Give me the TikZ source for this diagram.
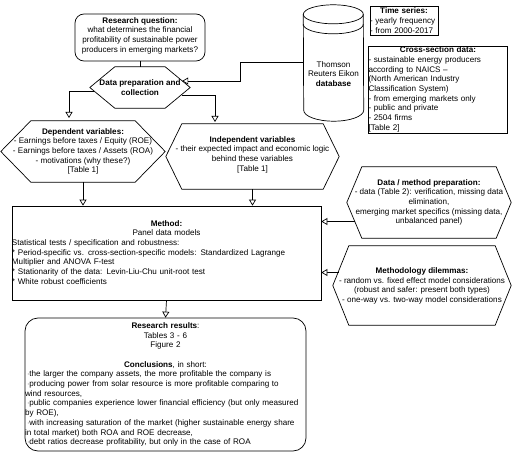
\documentclass[tikz,border=0pt]{standalone}
\usepackage{fontspec}
\setmainfont{Liberation Sans}
\usepackage{tikz}
\usetikzlibrary{arrows.meta,calc}
\tikzset{
  fbase/.style  ={inner sep=0pt, font=\fontsize{8.1}{9.7}\selectfont},
  frnd/.style   ={fbase, draw, line width=0.7pt, rounded corners=9pt, align=center},
  frect/.style  ={fbase, draw, line width=0.7pt},
  fhex/.style   ={fbase, align=center},
  fline/.style  ={line width=0.7pt},
  far/.style    ={-{Triangle[open, length=6pt, width=7pt, fill=white]}, line width=0.7pt},
}
% hexagon outline round a node: name, inset of the corners
\newcommand{\hexdraw}[2]{\draw[fline] (#1.west) -- ([xshift=#2pt]#1.north west) -- ([xshift=-#2pt]#1.north east)
  -- (#1.east) -- ([xshift=-#2pt]#1.south east) -- ([xshift=#2pt]#1.south west) -- cycle;}
\begin{document}
\begin{tikzpicture}[x=1pt,y=-1pt]
\useasboundingbox (0,0) rectangle (512,452);

\node[frnd, minimum width=130pt, minimum height=47pt] (rq) at (140,37.5)
  {\mbox{}\\[-7.7pt]\textbf{Research question:}\\what determines the financial\\profitability of sustainable power\\producers in emerging markets?};

\node[fhex, minimum width=100pt, minimum height=41pt] (prep) at (140,87.5)
  {\textbf{Data preparation and}\\\textbf{collection}};
\hexdraw{prep}{25}

\node[fhex, minimum width=164pt, minimum height=61pt] (dep) at (83,151.5)
  {\textbf{Dependent variables:}\\- Earnings before taxes / Equity (ROE)\\- Earnings before taxes / Assets (ROA)\\- motivations (why these?)\\{[Table 1]}};
\hexdraw{dep}{30}

\node[fhex, minimum width=173pt, minimum height=65pt] (indep) at (252.5,156.5)
  {\mbox{}\\[-7.7pt]\textbf{Independent variables}\\- their expected impact and economic logic\\behind these variables\\{[Table 1]}};
\hexdraw{indep}{16}

% database
\node[fbase, align=center, minimum width=60pt, minimum height=95.5pt] (db) at (333.5,62.25)
  {\mbox{}\\[19.8pt]Thomson\\Reuters Eikon\\\textbf{database}};
\draw[fline] (db.north west) arc[start angle=180, end angle=0, x radius=30pt, y radius=9.5pt]
  -- (db.south east) arc[start angle=0, end angle=-180, x radius=30pt, y radius=11pt] -- cycle;
\draw[fline] (db.north west) arc[start angle=180, end angle=360, x radius=30pt, y radius=9.5pt];
\draw[fline] ([yshift=-10pt]db.north west) arc[start angle=180, end angle=360, x radius=30pt, y radius=9.5pt];

\node[frect, text width=68pt, minimum height=29pt] (time) at (404,20.5)
  {{\centering\textbf{Time series:}\par}\raggedright - yearly frequency\\- from 2000-2017};
\node[frect, text width=139pt, minimum height=87pt] (cross) at (438,89.5)
  {{\centering\textbf{Cross-section data:}\par}\raggedright
   - sustainable energy producers\\according to NAICS --\\(North American Industry\\Classification System)\\- from emerging markets only\\- public and private\\- 2504 firms\\{[Table 2]}};

\node[fhex, minimum width=164pt, minimum height=71pt] (data) at (429,202.5)
  {\textbf{Data / method preparation:}\\- data (Table 2): verification, missing data\\elimination,\\emerging market specifics (missing data,\\unbalanced panel)};
\hexdraw{data}{15}

\node[fhex, minimum width=178pt, minimum height=79pt] (dil) at (422,285.5)
  {\mbox{}\\[-3pt]\textbf{Methodology dilemmas:}\\- random vs. fixed effect model considerations\\(robust and safer: present both types)\\- one-way vs. two-way model considerations};
\hexdraw{dil}{16}

\node[frect, text width=309pt, minimum height=94pt] (method) at (166.5,253)
  {{\centering\mbox{}\\[-5.3pt]\textbf{Method:}\\Panel data models\par}\raggedright
   Statistical tests / specification and robustness:\\
   {*} Period-specific vs. cross-section-specific models: Standardized Lagrange\\Multiplier and ANOVA F-test\\
   {*} Stationarity of the data: Levin-Liu-Chu unit-root test\\
   {*} White robust coefficients};

\node[frnd, rounded corners=13pt, align=left, text width=281pt, minimum height=133pt] (res) at (165.5,384.5)
  {{\centering\textbf{Research results}:\\Tables 3 - 6\\Figure 2\\[9.7pt]\textbf{Conclusions}, in short:\par}\raggedright
   \hspace*{2pt}$\cdot$the larger the company assets, the more profitable the company is\\
   \hspace*{2pt}$\cdot$producing power from solar resource is more profitable comparing to\\wind resources,\\
   \hspace*{2pt}$\cdot$public companies experience lower financial efficiency (but only measured\\by ROE),\\
   \hspace*{2pt}$\cdot$with increasing saturation of the market (higher sustainable energy share\\in total market) both ROA and ROE decrease,\\
   \hspace*{2pt}$\cdot$debt ratios decrease profitability, but only in the case of ROA};

\draw[fline] (rq.south) -- (prep.north);
\draw[far] (db.west) -- ++(-63pt,0) |- ([shift={(-8pt,6.5pt)}]prep.east);
\draw[far] ([shift={(4pt,-3.5pt)}]prep.west) -| (69,118);
\draw[far] ([shift={(-8pt,-7.5pt)}]prep.east) -| (215,122);
\draw[far] (dep.south) -- (dep.south |- method.north);
\draw[far] (indep.south) -- (indep.south |- method.north);
\draw[far] ([shift={(8pt,-19pt)}]data.west) coordinate (dataout) -- (dataout -| method.east);
\draw[far] ([shift={(6pt,13pt)}]dil.west) coordinate (dilout) -- (dilout -| method.east);
\draw[far] (method.south) -- (res.north);

\end{tikzpicture}
\end{document}
